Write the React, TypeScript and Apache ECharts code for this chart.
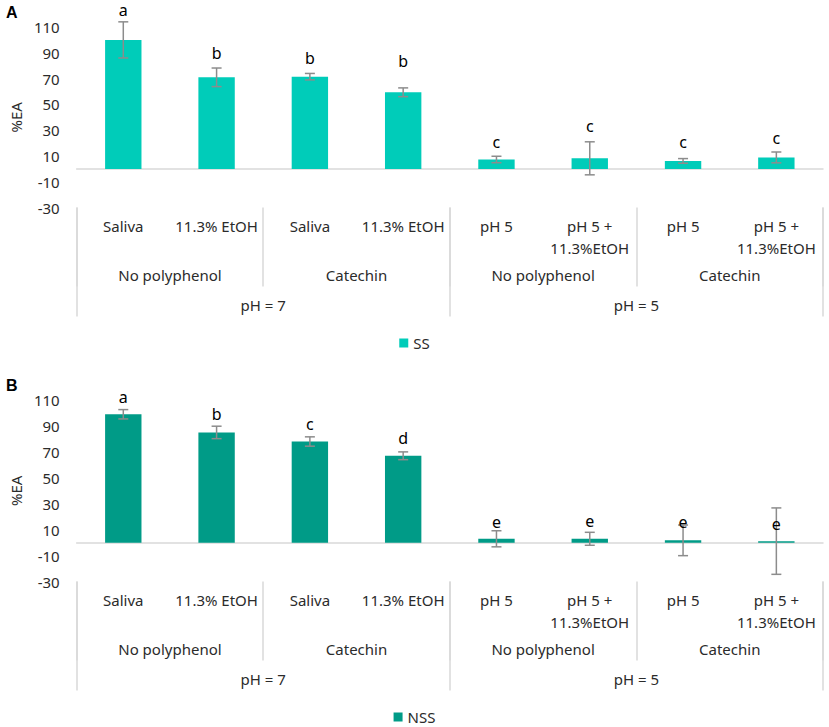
import React, { useEffect, useRef } from "react";
import * as echarts from "echarts";

const level1 = ["Saliva", "11.3% EtOH", "Saliva", "11.3% EtOH", "pH 5", "pH 5 +\n11.3%EtOH", "pH 5", "pH 5 +\n11.3%EtOH"];
const level2 = ["No polyphenol", "Catechin", "No polyphenol", "Catechin"];
const level3 = ["pH = 7", "pH = 5"];

const yMin = -30;
const yMax = 110;
const yStep = 20;

const ssValues = [100, 71, 71.5, 59.4, 7.3, 8.2, 6.2, 8.9];
const ssErrors = [14, 7.2, 2.5, 3.4, 2.5, 12.8, 1.8, 4.2];
const ssLetters = ["a", "b", "b", "b", "c", "c", "c", "c"];
const ssLetterY = [123, 89.5, 85.6, 84, 21, 33, 20.5, 23.6];

const nssValues = [99, 85, 78, 67, 3, 3, 1.8, 1.2];
const nssErrors = [3.6, 4.8, 3.6, 3, 6.2, 5, 11.8, 25.6];
const nssLetters = ["a", "b", "c", "d", "e", "e", "e", "e"];
const nssLetterY = [112, 99, 91.5, 81, 15.6, 16.7, 15.6, 14.6];

const FONT = "Noto Sans";
const TXT = "#2b2b2b";
const SEP = "#d9d9d9";

function panelAxes(g: number) {
  const x = [
    {
      type: "category",
      gridIndex: g,
      data: level1,
      axisLine: { show: true, onZero: true, lineStyle: { color: SEP, width: 1.5 } },
      axisTick: { show: false },
      axisLabel: { show: false },
    },
    {
      type: "category",
      gridIndex: g,
      position: "bottom",
      offset: 0,
      data: level1,
      axisLine: { show: false, onZero: false },
      axisTick: { show: false },
      axisLabel: { interval: 0, margin: 7, fontSize: 15, lineHeight: 22, color: TXT, fontFamily: FONT },
    },
    {
      type: "category",
      gridIndex: g,
      position: "bottom",
      offset: 79,
      data: level2,
      axisLine: { show: false, onZero: false },
      axisTick: { show: true, inside: true, length: 79, lineStyle: { color: SEP, width: 1.5 } },
      axisLabel: { inside: true, interval: 0, margin: 2, fontSize: 15, lineHeight: 20, color: TXT, fontFamily: FONT },
    },
    {
      type: "category",
      gridIndex: g,
      position: "bottom",
      offset: 109,
      data: level3,
      axisLine: { show: false, onZero: false },
      axisTick: { show: true, inside: true, length: 109, lineStyle: { color: SEP, width: 1.5 } },
      axisLabel: { inside: true, interval: 0, margin: 2, fontSize: 15, lineHeight: 20, color: TXT, fontFamily: FONT },
    },
  ];
  const y = {
    type: "value",
    gridIndex: g,
    min: yMin,
    max: yMax,
    interval: yStep,
    splitLine: { show: false },
    axisLine: { show: false },
    axisTick: { show: false },
    axisLabel: { margin: 17, fontSize: 15, color: TXT, fontFamily: FONT },
    name: "%EA",
    nameLocation: "middle",
    nameGap: 50,
    nameRotate: 90,
    nameTextStyle: { fontSize: 15, color: TXT, fontFamily: FONT },
  };
  return { x, y };
}

function errorSeries(values: number[], errors: number[], xIdx: number, yIdx: number) {
  return {
    type: "custom",
    xAxisIndex: xIdx,
    yAxisIndex: yIdx,
    silent: true,
    z: 5,
    data: values.map((v, i) => [i, v, errors[i]]),
    renderItem: (params: any, api: any) => {
      const i = api.value(0);
      const v = api.value(1);
      const e = api.value(2);
      const top = api.coord([i, v + e]);
      const bot = api.coord([i, v - e]);
      const hw = 5;
      const st = { stroke: "#8c8c8c", lineWidth: 1.5 };
      return {
        type: "group",
        children: [
          { type: "line", shape: { x1: top[0], y1: top[1], x2: bot[0], y2: bot[1] }, style: st },
          { type: "line", shape: { x1: top[0] - hw, y1: top[1], x2: top[0] + hw, y2: top[1] }, style: st },
          { type: "line", shape: { x1: bot[0] - hw, y1: bot[1], x2: bot[0] + hw, y2: bot[1] }, style: st },
        ],
      };
    },
  };
}

function letterSeries(letters: string[], ys: number[], xIdx: number, yIdx: number) {
  return {
    type: "custom",
    xAxisIndex: xIdx,
    yAxisIndex: yIdx,
    silent: true,
    z: 6,
    clip: false,
    data: ys.map((v, i) => [i, v]),
    renderItem: (params: any, api: any) => {
      const p = api.coord([api.value(0), api.value(1)]);
      return {
        type: "text",
        x: p[0],
        y: p[1],
        style: {
          text: letters[params.dataIndex],
          fill: "#000000",
          fontSize: 16,
          fontFamily: FONT,
          align: "center",
          verticalAlign: "middle",
        },
      };
    },
  };
}

export default function App() {
  const ref = useRef<HTMLDivElement>(null);
  useEffect(() => {
    if (!ref.current) return;
    const chart = echarts.init(ref.current, null, { renderer: "svg" });
    const a = panelAxes(0);
    const b = panelAxes(1);
    const legendBase = {
      left: "center",
      icon: "rect",
      padding: 0,
      itemWidth: 9,
      itemHeight: 9,
      itemGap: 5,
      textStyle: { fontSize: 15, lineHeight: 16, color: TXT, fontFamily: FONT },
    };
    const option: any = {
      animation: false,
      backgroundColor: "#ffffff",
      grid: [
        { left: 73, right: 6, top: 27, height: 180.6 },
        { left: 73, right: 6, top: 400, height: 181.6 },
      ],
      xAxis: [...a.x, ...b.x],
      yAxis: [a.y, b.y],
      legend: [
        { ...legendBase, data: ["SS"], top: 335 },
        { ...legendBase, data: ["NSS"], top: 709 },
      ],
      graphic: [
        { type: "text", left: 6, top: 4, style: { text: "A", fontSize: 16, fontWeight: "bold", fontFamily: "Liberation Sans", fill: "#000" } },
        { type: "text", left: 6, top: 377, style: { text: "B", fontSize: 16, fontWeight: "bold", fontFamily: "Liberation Sans", fill: "#000" } },
      ],
      series: [
        {
          name: "SS",
          type: "bar",
          xAxisIndex: 0,
          yAxisIndex: 0,
          data: ssValues,
          barWidth: "39%",
          itemStyle: { color: "#00CCB9" },
        },
        errorSeries(ssValues, ssErrors, 0, 0),
        letterSeries(ssLetters, ssLetterY, 0, 0),
        {
          name: "NSS",
          type: "bar",
          xAxisIndex: 4,
          yAxisIndex: 1,
          data: nssValues,
          barWidth: "39%",
          itemStyle: { color: "#009B87" },
        },
        errorSeries(nssValues, nssErrors, 4, 1),
        letterSeries(nssLetters, nssLetterY, 4, 1),
      ],
    };
    chart.setOption(option);
    return () => chart.dispose();
  }, []);
  return <div ref={ref} style={{ position: "absolute", left: 0, top: 0, width: 829, height: 727 }} />;
}
